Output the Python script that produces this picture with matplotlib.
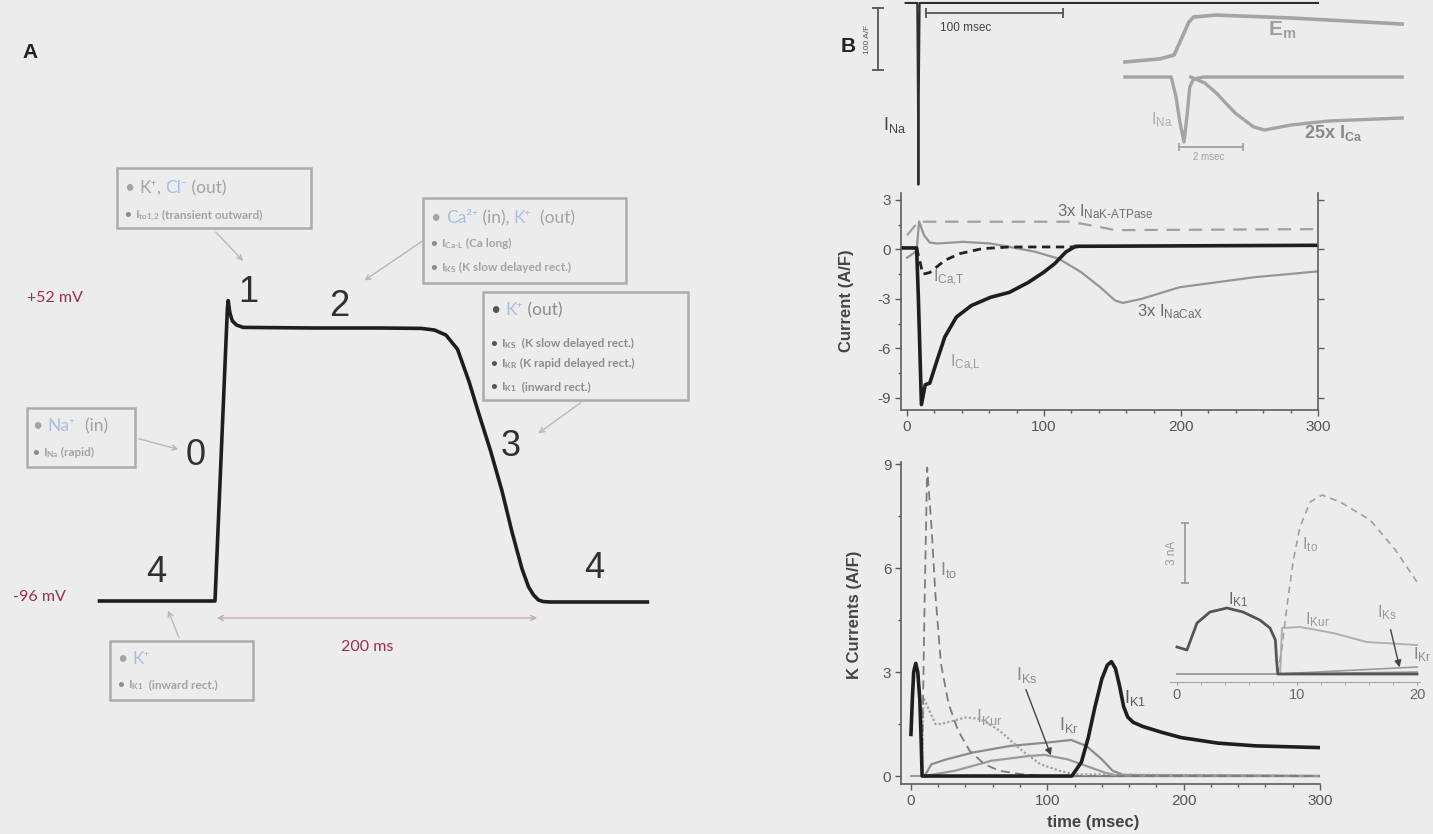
import matplotlib
matplotlib.use("Agg")
import matplotlib.pyplot as plt
from matplotlib.patches import Rectangle
from matplotlib.ticker import MultipleLocator

plt.rcParams['font.family'] = ['Liberation Sans', 'DejaVu Sans']
plt.rcParams['mathtext.default'] = 'regular'
plt.rcParams['axes.unicode_minus'] = False

# ---------------- data ----------------
# panel A: action potential (ms, mV)
ap_t = [-70, 0, 7.5, 8.0, 9.0, 10.5, 13, 17, 60, 100, 125, 133, 140, 147, 154, 160,
        167, 174, 180, 186, 190, 193, 196, 199, 203, 262]
ap_v = [-96, -96, 48, 52, 46, 42, 40, 38.8, 38.5, 38.5, 38.3, 37.5, 35, 28, 12, -4,
        -22, -42, -62, -80, -89, -93, -95.5, -96.3, -96.5, -96.5]
phase_labels = ['4', '0', '1', '2', '3', '4']

# panel B top: I_Na over the whole beat (ms, A/F)
ina_t = [-1, 7.5, 8.0, 8.3, 8.6, 9.2, 300]
ina_v = [0, 0, -150, -293, -150, 0, 0]

# panel B top inset (ms)
em_t = [0, 1.1, 1.54, 1.75, 2.0, 2.15, 2.86, 5.2, 8.68]
em_v = [-85, -77, -67, -29, 17, 30, 35, 27.5, 12]           # mV
ins_na_t = [0, 1.45, 1.6, 1.72, 1.85, 1.94, 2.03, 2.15, 2.46, 8.68]
ins_na_v = [0, 0, -20, -45, -65, -40, -10, -2, 0, 0]
ins_ca_t = [2.06, 2.5, 2.86, 3.45, 4.03, 4.37, 5.2, 6.37, 8.68]
ins_ca_v = [0, -6, -16, -36, -50, -53, -48, -44, -41]

# panel B middle: currents (ms, A/F)
cal_t = [-4, 7, 8.3, 10.5, 13.3, 16.6, 22, 27.6, 36, 47, 61, 74.7, 88.5, 99.5, 107.8,
         116, 123, 300]
cal_v = [0.09, 0.09, -3, -9.4, -8.2, -8.1, -6.7, -5.3, -4.1, -3.4, -2.9, -2.6, -2.0,
         -1.4, -0.86, -0.15, 0.19, 0.25]
cat_t = [7, 11.6, 16.6, 27.6, 38.7, 55, 75, 125]
cat_v = [0.1, -1.5, -1.4, -0.66, -0.25, 0.05, 0.15, 0.15]
nak_t = [0, 8.3, 119, 135, 152, 300]
nak_v = [0.86, 1.68, 1.68, 1.45, 1.17, 1.23]
ncx_t = [0, 7, 8.8, 12.4, 16.6, 22, 41, 61, 75, 94, 110.6, 127, 141, 152, 157.6, 171,
         199, 227, 254, 300]
ncx_v = [-0.5, -0.1, 1.7, 0.86, 0.42, 0.36, 0.46, 0.36, 0.15, -0.15, -0.56, -1.37,
         -2.29, -3.1, -3.24, -3.0, -2.29, -1.98, -1.68, -1.33]

# panel B bottom: K currents (ms, A/F)
k1_t = [0, 1, 2, 3.5, 5, 6.5, 7.5, 8.2, 118, 125, 130, 135, 140, 144, 147, 150, 153,
        156, 159, 163, 170, 184, 198, 225, 253, 300]
k1_v = [1.2, 2.2, 3.0, 3.25, 3.0, 2.2, 1.0, 0.0, 0.0, 0.4, 1.1, 2.0, 2.8, 3.2, 3.3,
        3.1, 2.6, 2.0, 1.7, 1.55, 1.43, 1.26, 1.11, 0.95, 0.87, 0.82]
to_t = [8, 10, 11.9, 15.2, 18, 22, 27.6, 34.6, 43, 54, 65, 81.6, 100, 300]
to_v = [0, 5.0, 8.9, 7.1, 5.2, 3.24, 2.08, 1.31, 0.73, 0.34, 0.15, 0.05, 0, 0]
kur_t = [8, 9.1, 18, 22, 40, 51, 65, 81.6, 95, 109, 120, 300]
kur_v = [0, 2.27, 1.5, 1.5, 1.69, 1.65, 1.31, 0.73, 0.34, 0.15, 0.05, 0]
kr_t = [10, 15, 26, 45.6, 73, 101, 117.5, 128.6, 140, 148, 156, 300]
kr_v = [0, 0.34, 0.48, 0.68, 0.87, 0.97, 1.04, 0.87, 0.48, 0.15, 0.03, 0]
ks_t = [10, 32, 59, 87, 98, 115, 128.6, 142, 150, 300]
ks_v = [0, 0.15, 0.44, 0.58, 0.61, 0.48, 0.29, 0.1, 0.02, 0]

# panel B bottom inset (ms, nA)
ik1_t = [0, 0.83, 1.67, 2.75, 4.17, 5.5, 6.9, 7.75, 8.2, 8.3, 8.4, 20]
ik1_v = [1.35, 1.2, 2.55, 3.1, 3.3, 3.1, 2.7, 2.3, 1.7, 0.7, 0, 0]
ito_t = [8.4, 8.75, 9.2, 9.7, 10.25, 11.1, 12.1, 13.6, 16.1, 18.2, 20]
ito_v = [0, 1.35, 3.55, 5.7, 7.35, 8.6, 8.95, 8.6, 7.7, 6.2, 4.6]
ikur_t = [8.6, 8.75, 10.25, 13, 15.8, 20]
ikur_v = [0, 2.3, 2.35, 2.05, 1.6, 1.45]
ikr_t = [8.4, 20]
ikr_v = [0, 0.35]
iks_t = [8.4, 20]
iks_v = [0, 0.1]

# ---------------- layout helpers (pixels of the 1433x834 image) ----------------
W, H = 1433, 834
BG = '#ececec'
fig = plt.figure(figsize=(W / 100, H / 100), dpi=100, facecolor=BG)
rend = fig.canvas.get_renderer()
FAM = ['Lato', 'DejaVu Sans']


def fx(x):
    return x / W


def fy(y):
    return 1 - y / H


def box(x0, y0, x1, y1):
    return [x0 / W, 1 - y1 / H, (x1 - x0) / W, (y1 - y0) / H]


def multi(x, y, parts, size, weight='normal'):
    # coloured pieces of one line, laid out one after the other
    for s, c in parts:
        t = fig.text(fx(x), fy(y), s, color=c, fontsize=size, fontweight=weight,
                     family=FAM, va='baseline', ha='left')
        x += t.get_window_extent(renderer=rend).width


def frame(x0, y0, x1, y1):
    fig.add_artist(Rectangle((fx(x0), fy(y1)), (x1 - x0) / W, (y1 - y0) / H,
                             transform=fig.transFigure, fill=False,
                             ec='#ababab', lw=1.8))


def arrow(x0, y0, x1, y1, style='->', color='#b8b8b8'):
    fig.add_artist(matplotlib.patches.FancyArrowPatch(
        (fx(x0), fy(y0)), (fx(x1), fy(y1)), transform=fig.transFigure,
        arrowstyle=style, color=color, lw=1.0, mutation_scale=9))


# ================= panel A =================
axA = fig.add_axes(box(0, 0, 760, 834))
axA.set_xlim(-130.3, 330.3)
axA.set_ylim(-210.8, 200.1)
axA.axis('off')
axA.plot(ap_t, ap_v, color='#1e1e1e', lw=2.6, solid_joinstyle='round')

fig.text(fx(22), fy(52), 'A', fontsize=15, fontweight='bold', color='#222', va='center')
fig.text(fx(841), fy(47), 'B', fontsize=15, fontweight='bold', color='#222', va='center')

for lab, (x, y) in zip(phase_labels, [(156, 572), (196, 455), (248, 293),
                                      (339, 307), (511, 447), (594, 568)]):
    fig.text(fx(x), fy(y), lab, fontsize=26, color='#303030', ha='center', va='center')

RED = '#9c2d4b'
fig.text(fx(27), fy(298), '+52 mV', fontsize=11.5, color=RED, family='Lato', va='center')
fig.text(fx(13), fy(597), '-96 mV', fontsize=11.5, color=RED, family='Lato', va='center')
fig.text(fx(367), fy(647), '200 ms', fontsize=11.5, color=RED, family='Lato',
         ha='center', va='center')
arrow(214, 618, 540, 618, style='<->', color='#c6a9b6')

G = '#a3a3a3'
B = '#a9bde3'
D = '#8c8c8c'

# box 1
frame(117, 168, 311, 228)
multi(125, 193, [('• ', G), ('K⁺', G), (', ', G), ('Cl⁻', B), (' (out)', G)], 12.5)
multi(125, 218, [('• ', D), ('I$_{to1{,}2}$', G), (' (transient outward)', G)], 8.5, 'bold')
arrow(214, 230, 245, 263)

# box 2
frame(423, 198, 626, 283)
multi(431, 223, [('• ', G), ('Ca²⁺', B), (' (in), ', G), ('K⁺', B), ('  (out)', G)], 12.5)
multi(431, 247, [('• ', D), ('I$_{Ca\\text{-}L}$', G), (' (Ca long)', G)], 8.5, 'bold')
multi(431, 271, [('• ', D), ('I$_{KS}$', G), (' (K slow delayed rect.)', G)], 8.5, 'bold')
arrow(424, 240, 362, 282)

# box 3
frame(483, 292, 688, 400)
multi(491, 315, [('• ', '#555'), ('K⁺', B), (' (out)', D)], 12.5)
multi(491, 347, [('• ', '#555'), ('I$_{KS}$', D), ('  (K slow delayed rect.)', D)], 8.5, 'bold')
multi(491, 367, [('• ', '#555'), ('I$_{KR}$', D), (' (K rapid delayed rect.)', D)], 8.5, 'bold')
multi(491, 390, [('• ', '#555'), ('I$_{K1}$', D), ('  (inward rect.)', D)], 8.5, 'bold')
arrow(583, 401, 536, 435)

# box 4
frame(27, 408, 135, 467)
multi(33, 431, [('• ', G), ('Na⁺', B), ('  (in)', G)], 12.5)
multi(33, 456, [('• ', D), ('I$_{Na}$', G), (' (rapid)', G)], 8.5, 'bold')
arrow(136, 438, 181, 450)

# box 5
frame(110, 641, 253, 700)
multi(118, 664, [('• ', G), ('K⁺', B)], 12.5)
multi(118, 688, [('• ', D), ('I$_{K1}$', G), ('  (inward rect.)', G)], 8.5, 'bold')
arrow(180, 640, 167, 608)

# ================= panel B, top strip =================
axT = fig.add_axes(box(840, 0, 1433, 190))
axT.set_xlim(-48.9, 383.9)
axT.set_ylim(-301.6, 4.8)
axT.axis('off')
axT.plot(ina_t, ina_v, color='#2e2e2e', lw=1.5, clip_on=False)
axT.plot([-21, -21], [-8, -108], color='#555', lw=1.3, marker='_', ms=9, mew=1.3)
axT.text(-28.5, -58, '100 A/F', rotation=90, fontsize=6, color='#555', ha='center', va='center')
axT.plot([13.9, 113.9], [-16, -16], color='#555', lw=1.3, marker='|', ms=7, mew=1.3)
axT.text(24, -40, '100 msec', fontsize=8.5, color='#444', va='center')
axT.text(-17.5, -197, 'I$_{Na}$', fontsize=13, color='#444', va='center')

axEm = fig.add_axes(box(1120, 5, 1415, 165))
axEm.set_xlim(-0.154, 9.08)
axEm.set_ylim(-348.3, 60.7)
axEm.axis('off')
axEm.plot(em_t, em_v, color='#a4a4a4', lw=2.6)
axEm.text(4.49, -3, 'E$_{m}$', fontsize=15, color='#a0a0a0', va='center', fontweight='bold')

axNa = fig.add_axes(box(1120, 5, 1415, 165))
axNa.set_xlim(-0.154, 9.08)
axNa.set_ylim(-88, 72)
axNa.axis('off')
axNa.plot(ins_na_t, ins_na_v, color='#a4a4a4', lw=2.4)
axNa.plot(ins_ca_t, ins_ca_v, color='#a4a4a4', lw=2.4)
axNa.text(0.83, -43, 'I$_{Na}$', fontsize=12, color='#b0b0b0', va='center')
axNa.text(5.6, -56, '25x I$_{Ca}$', fontsize=13, color='#8a8a8a', va='center',
          fontweight='bold')
axNa.plot([1.69, 3.69], [-70, -70], color='#a0a0a0', lw=1.3, marker='|', ms=6, mew=1.2)
axNa.text(2.62, -80, '2 msec', fontsize=7, color='#a0a0a0', ha='center', va='center')


def style(ax, right=False):
    ax.set_facecolor('none')
    ax.spines['top'].set_visible(False)
    ax.spines['right'].set_visible(right)
    for s in ax.spines.values():
        s.set_color('#5c5c5c')
        s.set_linewidth(1.2)
    ax.tick_params(which='both', direction='out', color='#5c5c5c', labelcolor='#555',
                   labelsize=11, pad=3)
    ax.tick_params(which='major', length=4, width=1)
    ax.tick_params(which='minor', length=2.5, width=1)
    ax.set_xticks([0, 100, 200, 300])
    ax.xaxis.set_minor_locator(MultipleLocator(20))
    ax.yaxis.set_minor_locator(MultipleLocator(1.5))
    if right:
        ax.tick_params(axis='y', which='major', right=True)


# ================= panel B, middle =================
axM = fig.add_axes(box(901, 193, 1318, 410))
axM.set_xlim(-4.4, 300)
axM.set_ylim(-9.73, 3.42)
style(axM, right=True)
axM.set_yticks([-9, -6, -3, 0, 3])
axM.plot(nak_t, nak_v, color='#a0a0a0', lw=1.6, dashes=(6, 4))
axM.plot(ncx_t, ncx_v, color='#959595', lw=1.6)
axM.plot(cat_t, cat_v, color='#222', lw=2.0, dashes=(3, 2))
axM.plot(cal_t, cal_v, color='#1e1e1e', lw=2.6)
axM.text(109.5, 2.27, '3x I$_{NaK\\text{-}ATPase}$', fontsize=12, color='#707070', va='center')
axM.text(19, -1.73, 'I$_{Ca{,}T}$', fontsize=12, color='#8a8a8a', va='center')
axM.text(31.4, -6.88, 'I$_{Ca{,}L}$', fontsize=12, color='#9a9a9a', va='center')
axM.text(168, -3.79, '3x I$_{NaCaX}$', fontsize=12, color='#6a6a6a', va='center')
fig.text(fx(847), fy(301), 'Current (A/F)', rotation=90, fontsize=12, fontweight='bold',
         color='#444', ha='center', va='center')

# ================= panel B, bottom =================
axK = fig.add_axes(box(901, 462, 1320, 784))
axK.set_xlim(-7.3, 300)
axK.set_ylim(-0.23, 9.06)
style(axK)
axK.set_yticks([0, 3, 6, 9])
axK.plot([0, 300], [0, 0], color='#9a9a9a', lw=1.4)
axK.plot([60, 290], [0, 0], color='#7a5e95', lw=1.0, alpha=0.7)
axK.plot(ks_t, ks_v, color='#9a9a9a', lw=1.6)
axK.plot(kr_t, kr_v, color='#8c8c8c', lw=1.6)
axK.plot(kur_t, kur_v, color='#a0a0a0', lw=1.6, dashes=(1, 1))
axK.plot(to_t, to_v, color='#7c7c7c', lw=1.3, dashes=(5, 3))
axK.plot(k1_t, k1_v, color='#1e1e1e', lw=2.6)
axK.text(21.3, 5.94, 'I$_{to}$', fontsize=13, color='#8a8a8a', va='center')
axK.text(47.7, 1.70, 'I$_{Kur}$', fontsize=13, color='#9a9a9a', va='center')
axK.text(77, 2.91, 'I$_{Ks}$', fontsize=13, color='#8a8a8a', va='center')
axK.text(108.6, 1.47, 'I$_{Kr}$', fontsize=13, color='#7a7a7a', va='center')
axK.text(156.3, 2.25, 'I$_{K1}$', fontsize=13, color='#5a5a5a', va='center')
axK.annotate('', xy=(103.4, 0.52), xytext=(83.6, 2.57),
             arrowprops=dict(arrowstyle='-|>', color='#444', lw=1.0, mutation_scale=10))
fig.text(fx(855), fy(615), 'K Currents (A/F)', rotation=90, fontsize=12, fontweight='bold',
         color='#444', ha='center', va='center')
fig.text(fx(1093), fy(822), 'time (msec)', fontsize=12, fontweight='bold', color='#444',
         ha='center', va='center')

# inset of the bottom panel
axKi = fig.add_axes(box(1170, 490, 1420, 700))
axKi.set_xlim(-0.58, 20.25)
axKi.set_ylim(-1.3, 9.2)
axKi.set_facecolor('none')
for s in ['top', 'right', 'left']:
    axKi.spines[s].set_visible(False)
axKi.spines['bottom'].set_position(('data', -0.4))
axKi.spines['bottom'].set_color('#a5a5a5')
axKi.spines['bottom'].set_linestyle((0, (3, 1)))
axKi.set_yticks([])
axKi.set_xticks([0, 10, 20])
axKi.xaxis.set_minor_locator(MultipleLocator(2))
axKi.tick_params(which='both', direction='out', color='#a5a5a5', labelcolor='#666',
                 labelsize=10.5, length=2, pad=2)
axKi.plot([0, 20], [0, 0], color='#9a9a9a', lw=1.3)
axKi.plot(iks_t, iks_v, color='#9a9a9a', lw=1.2)
axKi.plot(ikr_t, ikr_v, color='#9a9a9a', lw=1.2)
axKi.plot(ikur_t, ikur_v, color='#b0b0b0', lw=1.4)
axKi.plot(ito_t, ito_v, color='#a0a0a0', lw=1.2, dashes=(4, 3))
axKi.plot(ik1_t, ik1_v, color='#555', lw=2.0)
axKi.plot([0.67, 0.67], [4.55, 7.55], color='#999', lw=1.2, marker='_', ms=6, mew=1.2)
axKi.text(-0.4, 6.05, '3 nA', rotation=90, fontsize=8.5, color='#999', ha='center', va='center')
axKi.text(4.25, 3.7, 'I$_{K1}$', fontsize=12, color='#666', va='center')
axKi.text(10.4, 6.45, 'I$_{to}$', fontsize=12, color='#999', va='center')
axKi.text(10.7, 2.7, 'I$_{Kur}$', fontsize=12, color='#999', va='center')
axKi.text(16.7, 3.05, 'I$_{Ks}$', fontsize=12, color='#999', va='center')
axKi.text(19.7, 0.95, 'I$_{Kr}$', fontsize=12, color='#888', va='center', clip_on=False)
axKi.annotate('', xy=(18.6, 0.2), xytext=(17.75, 2.35),
              arrowprops=dict(arrowstyle='-|>', color='#444', lw=1.0, mutation_scale=10))

fig.savefig('out.png', dpi=100, facecolor=BG)
